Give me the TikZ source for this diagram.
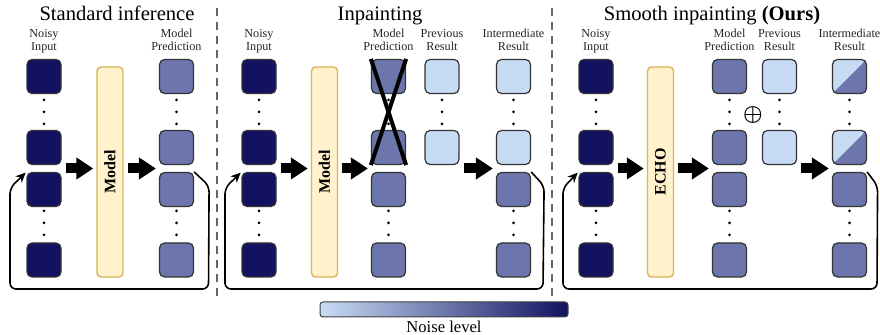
\documentclass[tikz,border=0pt]{standalone}
\usepackage{amsmath}
\usepackage{fontspec}
\setmainfont{Liberation Serif}
\usetikzlibrary{arrows.meta,calc}

\definecolor{noisedark}{RGB}{18,18,96}
\definecolor{noisemid}{RGB}{108,118,172}
\definecolor{noiselight}{RGB}{199,220,244}
\definecolor{modelfill}{RGB}{255,242,204}
\definecolor{modeldraw}{RGB}{214,182,86}

\tikzset{
  sq/.style={draw=black!80, line width=0.6pt, rounded corners=2.5pt, minimum size=17pt, inner sep=0pt},
  sqdark/.style={sq, fill=noisedark},
  sqmid/.style={sq, fill=noisemid},
  sqlight/.style={sq, fill=noiselight},
  sqsplit/.style={sq, fill=noisemid, path picture={\fill[noiselight] (path picture bounding box.north west) -- (path picture bounding box.north east) -- (path picture bounding box.south west) -- cycle;}},
  modelbox/.style={draw=modeldraw, fill=modelfill, line width=0.7pt, rounded corners=2pt, rotate=90, minimum width=105pt, minimum height=13pt, inner sep=0pt, font=\fontsize{8}{9}\selectfont\bfseries},
  blockarrow/.style={line width=5pt, -{Triangle[length=8.5pt,width=10.5pt]}, shorten <=2pt, shorten >=1.5pt},
  loopline/.style={line width=0.8pt, rounded corners=3pt, -{Stealth[length=5pt,width=4.5pt]}, shorten >=0.5pt},
  colhead/.style={font=\fontsize{6.1}{6.6}\selectfont, align=center, inner sep=0pt, text=black!85, anchor=base},
  paneltitle/.style={font=\fontsize{10.3}{12}\selectfont, inner sep=0pt, anchor=base},
  panelsep/.style={draw=black!60, line width=0.6pt, dash pattern=on 4pt off 3pt},
  noisebar/.style={draw=black!75, line width=0.5pt, rounded corners=1.5pt, left color=noiselight, right color=noisedark, minimum width=124pt, minimum height=7.5pt, inner sep=0pt},
}
\newcommand{\dotcol}[1]{\fill #1 +(0,-12) circle (0.75pt) +(0,0) circle (0.75pt) +(0,12) circle (0.75pt);}

\begin{document}
\begin{tikzpicture}[x=0.5pt,y=0.5pt,yscale=-1,xscale=1]
\path[use as bounding box] (0,0) rectangle (880,335);

%Straight Lines: panel separators
\draw[panelsep] (217,8) -- (217,296);
\draw[panelsep] (552,8) -- (552,296);

% Text Node: titles
\node[paneltitle] (p1title) at (117,20.5) {Standard inference};
\node[paneltitle] (p2title) at (380,20.5) {Inpainting};
\node[paneltitle] (p3title) at (712,20.5) {Smooth inpainting \textbf{(Ours)}};

%%% Panel 1: standard inference
% Text Node
\node[colhead] (p1inlab) at (44,51) {Noisy\\Input};
\node[colhead] (p1predlab) at (176.5,51) {Model\\Prediction};
%Shape: Square
\node[sqdark] (p1in1) at (44,76.5) {};
\node[sqdark] (p1in2) at (44,147.5) {};
\node[sqdark] (p1in3) at (44,189.5) {};
\node[sqdark] (p1in4) at (44,260) {};
\node[sqmid] (p1pred1) at (176.5,76.5) {};
\node[sqmid] (p1pred2) at (176.5,147.5) {};
\node[sqmid] (p1pred3) at (176.5,189.5) {};
\node[sqmid] (p1pred4) at (176.5,260) {};
\dotcol{(44,112)} \dotcol{(44,223)}
\dotcol{(176.5,112)} \dotcol{(176.5,223)}
%Shape: Rectangle
\node[modelbox] (p1model) at (110,172) {Model};
%Straight Lines
\coordinate (p1gin) at ($(p1in2.south east)!0.5!(p1in3.north east)$);
\coordinate (p1gpred) at ($(p1pred2.south west)!0.5!(p1pred3.north west)$);
\draw[blockarrow] (p1gin) -- (p1model.north |- p1gin);
\draw[blockarrow] (p1model.south |- p1gin) -- (p1gpred);
\coordinate (p1loopr) at (208.5,289);
\coordinate (p1loopl) at (10,289);
\draw[loopline] (p1pred3.north east) -- ++(15,14) -- (p1loopr) -- (p1loopl) -- ++(0,-101) -- (p1in3.north west);

%%% Panel 2: inpainting
% Text Node
\node[colhead] (p2inlab) at (259,51) {Noisy\\Input};
\node[colhead] (p2predlab) at (388.5,51) {Model\\Prediction};
\node[colhead] (p2prevlab) at (442,51) {Previous\\Result};
\node[colhead] (p2interlab) at (513.5,51) {Intermediate\\Result};
%Shape: Square
\node[sqdark] (p2in1) at (259,76.5) {};
\node[sqdark] (p2in2) at (259,147.5) {};
\node[sqdark] (p2in3) at (259,189.5) {};
\node[sqdark] (p2in4) at (259,260) {};
\node[sqmid] (p2pred1) at (388.5,76.5) {};
\node[sqmid] (p2pred2) at (388.5,147.5) {};
\node[sqmid] (p2pred3) at (388.5,189.5) {};
\node[sqmid] (p2pred4) at (388.5,260) {};
\node[sqlight] (p2prev1) at (442,76.5) {};
\node[sqlight] (p2prev2) at (442,147.5) {};
\node[sqlight] (p2inter1) at (513.5,76.5) {};
\node[sqlight] (p2inter2) at (513.5,147.5) {};
\node[sqmid] (p2inter3) at (513.5,189.5) {};
\node[sqmid] (p2inter4) at (513.5,260) {};
\dotcol{(259,112)} \dotcol{(259,223)}
\dotcol{(388.5,112)} \dotcol{(388.5,223)}
\dotcol{(442,112)}
\dotcol{(513.5,112)} \dotcol{(513.5,223)}
%Straight Lines: discarded prediction
\draw[line width=2pt] (p2pred1.north west) -- (p2pred2.south east);
\draw[line width=2pt] (p2pred1.north east) -- (p2pred2.south west);
%Shape: Rectangle
\node[modelbox] (p2model) at (324.5,172) {Model};
%Straight Lines
\coordinate (p2gin) at ($(p2in2.south east)!0.5!(p2in3.north east)$);
\coordinate (p2gpred) at ($(p2pred2.south west)!0.5!(p2pred3.north west)$);
\coordinate (p2ginter) at ($(p2inter2.south west)!0.5!(p2inter3.north west)$);
\draw[blockarrow] (p2gin) -- (p2model.north |- p2gin);
\draw[blockarrow] (p2model.south |- p2gin) -- (p2gpred);
\draw[blockarrow] (p2prev2.east |- p2ginter) -- (p2ginter);
\coordinate (p2loopr) at (543,289);
\coordinate (p2loopl) at (225,289);
\draw[loopline] (p2inter3.north east) -- ++(13,14) -- (p2loopr) -- (p2loopl) -- ++(0,-101) -- (p2in3.north west);

%%% Panel 3: smooth inpainting
% Text Node
\node[colhead] (p3inlab) at (596,51) {Noisy\\Input};
\node[colhead] (p3predlab) at (729.5,51) {Model\\Prediction};
\node[colhead] (p3prevlab) at (779.5,51) {Previous\\Result};
\node[colhead] (p3interlab) at (849.5,51) {Intermediate\\Result};
%Shape: Square
\node[sqdark] (p3in1) at (596,76.5) {};
\node[sqdark] (p3in2) at (596,147.5) {};
\node[sqdark] (p3in3) at (596,189.5) {};
\node[sqdark] (p3in4) at (596,260) {};
\node[sqmid] (p3pred1) at (729.5,76.5) {};
\node[sqmid] (p3pred2) at (729.5,147.5) {};
\node[sqmid] (p3pred3) at (729.5,189.5) {};
\node[sqmid] (p3pred4) at (729.5,260) {};
\node[sqlight] (p3prev1) at (779.5,76.5) {};
\node[sqlight] (p3prev2) at (779.5,147.5) {};
\node[sqsplit] (p3inter1) at (849.5,76.5) {};
\node[sqsplit] (p3inter2) at (849.5,147.5) {};
\node[sqmid] (p3inter3) at (849.5,189.5) {};
\node[sqmid] (p3inter4) at (849.5,260) {};
\dotcol{(596,112)} \dotcol{(596,223)}
\dotcol{(729.5,112)} \dotcol{(729.5,223)}
\dotcol{(779.5,112)}
\dotcol{(849.5,112)} \dotcol{(849.5,223)}
% Text Node: blend
\node[inner sep=0pt, font=\fontsize{11}{12}\selectfont] (p3plus) at (753,115) {$\boldsymbol{\oplus}$};
%Shape: Rectangle
\node[modelbox] (p3echo) at (660.5,172) {ECHO};
%Straight Lines
\coordinate (p3gin) at ($(p3in2.south east)!0.5!(p3in3.north east)$);
\coordinate (p3gpred) at ($(p3pred2.south west)!0.5!(p3pred3.north west)$);
\coordinate (p3ginter) at ($(p3inter2.south west)!0.5!(p3inter3.north west)$);
\draw[blockarrow] (p3gin) -- (p3echo.north |- p3gin);
\draw[blockarrow] (p3echo.south |- p3gin) -- (p3gpred);
\draw[blockarrow] (p3prev2.east |- p3ginter) -- (p3ginter);
\coordinate (p3loopr) at (877,289);
\coordinate (p3loopl) at (563,289);
\draw[loopline] (p3inter3.north east) -- ++(10.5,14) -- (p3loopr) -- (p3loopl) -- ++(0,-101) -- (p3in3.north west);

%%% Legend
\node[noisebar] (noisebar) at (444,309.5) {};
% Text Node
\node[inner sep=0pt, anchor=north, font=\fontsize{8.3}{10}\selectfont] (noiselab) at ([yshift=1.5pt]noisebar.south) {Noise level};

\end{tikzpicture}
\end{document}
